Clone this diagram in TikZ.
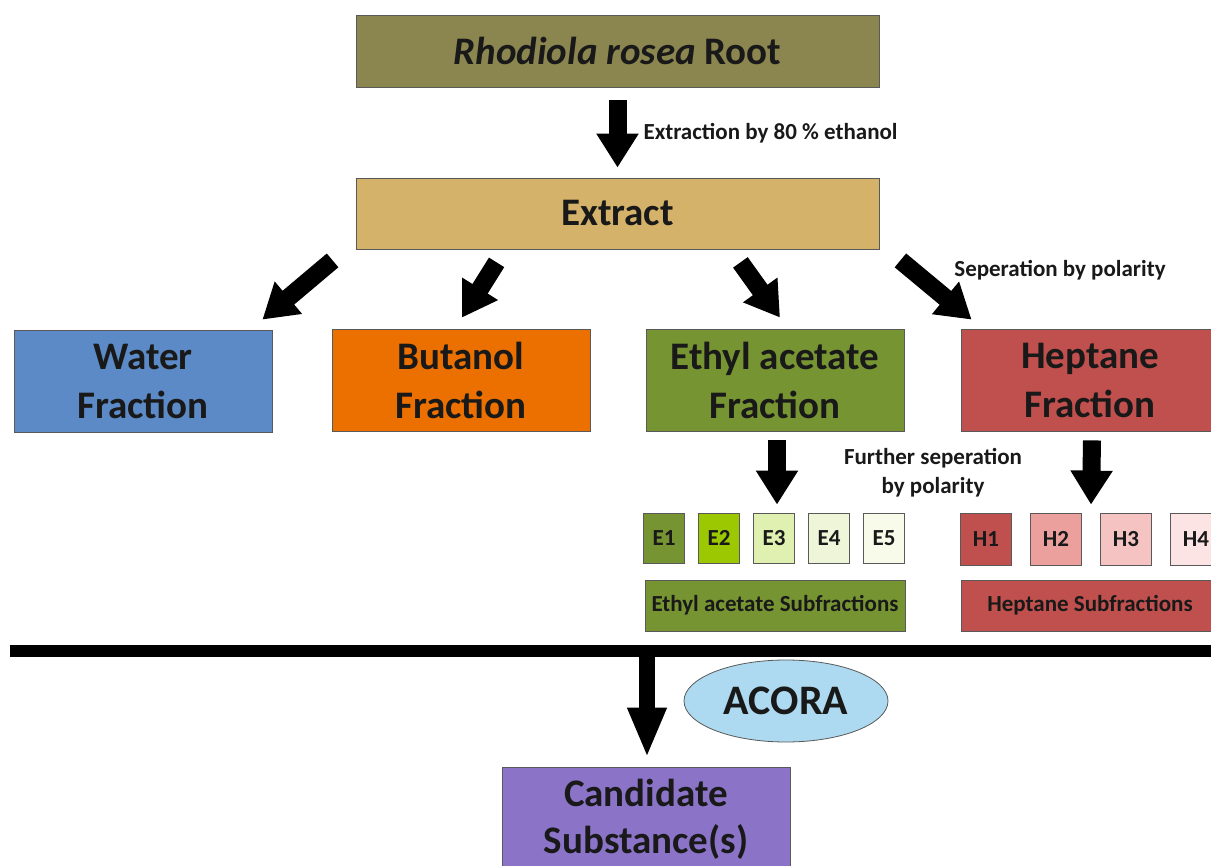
\documentclass[tikz,border=0pt]{standalone}
\usepackage{fontspec}
\setmainfont{Carlito}
\usepackage{tikz}
\usetikzlibrary{arrows.meta,shapes.geometric,calc}

\definecolor{rootcol}{HTML}{8B8550}
\definecolor{extractcol}{HTML}{D4B26A}
\definecolor{watercol}{HTML}{5B8AC6}
\definecolor{butcol}{HTML}{EC7000}
\definecolor{ethylcol}{HTML}{779432}
\definecolor{heptcol}{HTML}{C0504D}
\definecolor{candcol}{HTML}{8B74C8}
\definecolor{acoracol}{HTML}{ADDAF0}
\definecolor{e1col}{HTML}{779432}
\definecolor{e2col}{HTML}{9BC800}
\definecolor{e3col}{HTML}{DFF0B0}
\definecolor{e4col}{HTML}{EEF5D8}
\definecolor{e5col}{HTML}{F8FBEA}
\definecolor{h1col}{HTML}{C0504D}
\definecolor{h2col}{HTML}{EBA09E}
\definecolor{h3col}{HTML}{F5C3C2}
\definecolor{h4col}{HTML}{FCE4E4}

\tikzset{
  box/.style={draw=black!65, line width=0.8pt, text=black!90, align=center, inner sep=0pt,
    font=\bfseries\fontsize{39}{49}\selectfont},
  frac/.style={box, minimum width=258pt, minimum height=102pt},
  subbox/.style={box, font=\bfseries\fontsize{23}{26}\selectfont, minimum height=50pt},
  bigarrow/.style={line width=18pt, -{Triangle[width=40pt,length=34pt]}},
  note/.style={font=\bfseries\fontsize{23}{29}\selectfont, align=center, text=black!90}
}

\begin{document}
\begin{tikzpicture}[x=1pt,y=-1pt]
  \useasboundingbox (0,0) rectangle (1211,866);
  \clip (0,0) rectangle (1211,866);

  \node[box, fill=rootcol, minimum width=523pt, minimum height=72pt] (root) at (617.5,51) {\textit{Rhodiola rosea} Root};
  \node[box, fill=extractcol, minimum width=523pt, minimum height=71pt] (extract) at (617.5,213.5) {Extract};
  \draw[bigarrow] ([shift={(0,13)}]root.south) -- ([shift={(0,-10)}]extract.north);
  \node[note, anchor=west] (ethanol) at (640,133) {Extraction by 80 \% ethanol};

  % fractions
  \node[frac, fill=watercol] (water) at (143,381) {Water\\Fraction};
  \node[frac, fill=butcol] (butanol) at (461,380) {Butanol\\Fraction};
  \node[frac, fill=ethylcol] (ethyl) at (775,380) {Ethyl acetate\\Fraction};
  \node[frac, fill=heptcol] (heptane) at (1090,380) {Heptane\\Fraction};

  \draw[bigarrow] ([shift={(-23,11)}]extract.south west) -- ([shift={(-10,-10)}]water.north east);
  \draw[bigarrow] ([shift={(141,13)}]extract.south west) -- ([shift={(1,-11)}]butanol.north);
  \draw[bigarrow] ([shift={(-139,13)}]extract.south east) -- ([shift={(5,-11)}]ethyl.north);
  \draw[bigarrow] ([shift={(21,11)}]extract.south east) -- ([shift={(11,-9)}]heptane.north west);
  \node[note] (polarity) at (1060,270) {Seperation by polarity};

  % subfractions
  \foreach \n in {1,...,5}
    \node[subbox, fill=e\n col, minimum width=41pt] (e\n) at ({664+55*(\n-1)},538) {E\n};
  \foreach \n in {1,...,4}
    \node[subbox, fill=h\n col, minimum width=51pt, minimum height=52pt] (h\n) at ({986+70*(\n-1)},539) {H\n};
  \node[subbox, fill=ethylcol, minimum width=260pt, minimum height=51pt] (ethylsub) at (775,605.5) {Ethyl acetate Subfractions};
  \node[subbox, fill=heptcol, minimum width=258pt, minimum height=51pt] (heptsub) at (1090,605.5) {Heptane Subfractions};

  \draw[bigarrow] ([shift={(2,9)}]ethyl.south) -- ([shift={(3,-8)}]e3.north);
  \draw[bigarrow] ([shift={(2,9)}]heptane.south) -- ($($(h2.north)!0.5!(h3.north)$)+(0,-8)$);
  \node[note] (further) at (933,473) {Further seperation\\by polarity};

  % screening
  \coordinate (split) at (647,651);
  \draw[line width=12pt] (10,651) -- (1220,651);
  \node[box, fill=candcol, minimum width=288pt, minimum height=104pt, font=\bfseries\fontsize{39}{47}\selectfont] (cand) at (646,819) {Candidate\\Substance(s)};
  \draw[line width=16pt, -{Triangle[width=36pt,length=50pt]}] (split) -- ([shift={(1,-9)}]cand.north);
  \node[box, ellipse, fill=acoracol, minimum width=204pt, minimum height=82pt, font=\bfseries\fontsize{42}{49}\selectfont] (acora) at (786,701) {ACORA};
\end{tikzpicture}
\end{document}
